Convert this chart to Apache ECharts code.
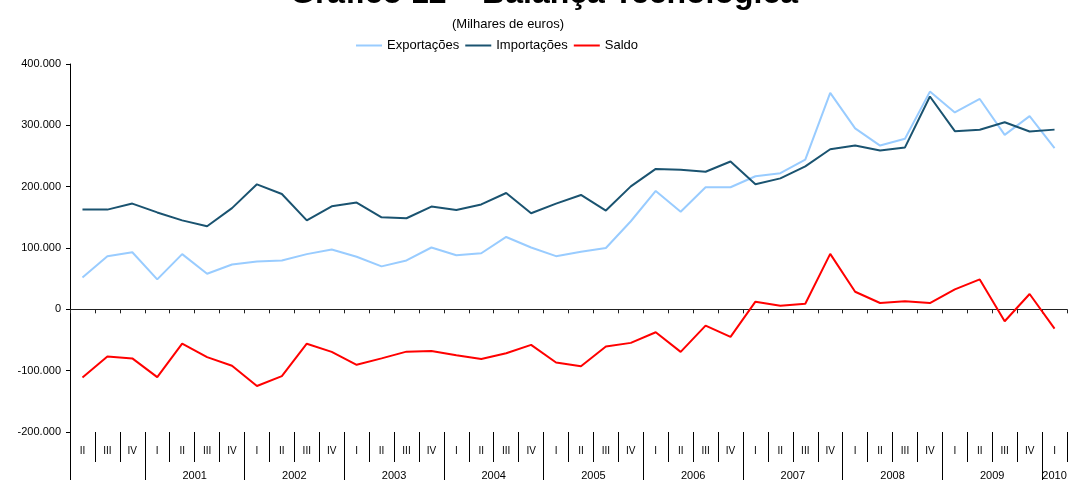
<!DOCTYPE html>
<html>
<head>
<meta charset="utf-8">
<script src="https://cdn.jsdelivr.net/npm/echarts@6/dist/echarts.min.js"></script>
<style>
  html, body { margin: 0; padding: 0; background: #fff; }
  #chart { width: 1070px; height: 481px; }
</style>
</head>
<body>
<div id="chart"></div>
<script>
// trimestres: 2000 II ... 2010 I
const quarters = [
  'II', 'III', 'IV',
  'I', 'II', 'III', 'IV',
  'I', 'II', 'III', 'IV',
  'I', 'II', 'III', 'IV',
  'I', 'II', 'III', 'IV',
  'I', 'II', 'III', 'IV',
  'I', 'II', 'III', 'IV',
  'I', 'II', 'III', 'IV',
  'I', 'II', 'III', 'IV',
  'I', 'II', 'III', 'IV',
  'I'
]
const years = ['2001', '2002', '2003', '2004', '2005', '2006', '2007', '2008', '2009', '2010']

// milhares de euros
const exportacoes = [
  52000, 86700, 93000, 48800, 90000, 58000, 73000, 78000, 79700, 90000,
  97600, 85700, 70000, 79700, 100800, 88300, 91500, 118000, 100800, 86700,
  93800, 100000, 143600, 193000, 159000, 199000, 199000, 217000, 222000, 244000,
  353000, 295000, 267000, 278000, 355000, 321000, 343000, 284500, 315000, 263000
]
const importacoes = [
  162600, 162600, 172400, 158000, 145000, 135500, 165000, 203800, 188000, 145000,
  168000, 174000, 150000, 148500, 167500, 162000, 171000, 189700, 156600, 172400,
  186500, 161000, 200500, 229000, 227600, 224400, 241000, 203800, 213500, 233000,
  261000, 267000, 259000, 264000, 347000, 290500, 292700, 305000, 290000, 293000
]
const saldo = [
  -111000, -77000, -80000, -110600, -56000, -78000, -92000, -125000, -109000, -56000,
  -69400, -90500, -80000, -69000, -67800, -74800, -81000, -71500, -58000, -86700,
  -92700, -60700, -54700, -37400, -69400, -26500, -45000, 12500, 6000, 9200,
  90500, 28700, 10300, 13000, 10300, 32500, 48800, -19500, 25000, -31400
]

// eixo dos anos: meio-trimestres, 0..80
const yearSlots = []
const yearTicks = [0]
for (let i = 0; i <= 80; i++) yearSlots.push('')
let q = quarters.indexOf('I')
years.forEach((y, i) => {
  const start = q + i * 4
  const end = Math.min(start + 4, quarters.length)
  yearSlots[start + end] = y
  yearTicks.push(start * 2)
})

const FONT = '"Liberation Sans", Arial, sans-serif'

function fmtThousands(v) {
  if (v === 0) return '0'
  const s = Math.abs(v).toString().replace(/\B(?=(\d{3})+(?!\d))/g, '.')
  return (v < 0 ? '-' : '') + s
}

const chart = echarts.init(document.getElementById('chart'))

const option = {
  animation: false,
  textStyle: { fontFamily: FONT },
  title: [
    {
      text: 'Gráfico 12 – Balança Tecnológica',
      left: 285,
      top: -27,
      textStyle: { fontFamily: FONT, fontSize: 32, fontWeight: 'bold', color: '#000' }
    },
    {
      text: '(Milhares de euros)',
      left: 447,
      top: 13,
      textStyle: { fontFamily: FONT, fontSize: 13, fontWeight: 'normal', color: '#000' }
    }
  ],
  legend: {
    left: 351,
    top: 34,
    icon: 'rect',
    itemWidth: 26,
    itemHeight: 2,
    itemGap: 6,
    textStyle: { fontFamily: FONT, fontSize: 13, color: '#000' },
    data: ['Exportações', 'Importações', 'Saldo']
  },
  grid: {
    left: 70,
    right: 0,
    top: 64,
    bottom: 46,
    containLabel: false
  },
  xAxis: [
    {
      // trimestres
      type: 'category',
      data: quarters,
      position: 'bottom',
      boundaryGap: true,
      axisLine: { show: false, onZero: false },
      axisTick: { show: true, interval: 0, length: 30, lineStyle: { color: '#000', width: 1 } },
      axisLabel: { interval: 0, margin: 14, fontSize: 10, color: '#000', fontFamily: FONT },
      splitLine: { show: false }
    },
    {
      // anos
      type: 'category',
      data: yearSlots,
      position: 'bottom',
      boundaryGap: false,
      axisLine: { show: false, onZero: false },
      axisTick: {
        show: true,
        interval: (idx) => yearTicks.includes(idx),
        length: 48,
        lineStyle: { color: '#000', width: 1 }
      },
      axisLabel: { interval: 0, margin: 38, fontSize: 11, color: '#000', fontFamily: FONT },
      splitLine: { show: false }
    },
    {
      // linha do zero
      type: 'category',
      data: quarters,
      position: 'bottom',
      boundaryGap: true,
      axisLine: { show: true, onZero: true, lineStyle: { color: '#222', width: 1 } },
      axisTick: { show: true, interval: 0, length: 4, lineStyle: { color: '#222' } },
      axisLabel: { show: false },
      splitLine: { show: false }
    }
  ],
  yAxis: {
    type: 'value',
    min: -200000,
    max: 400000,
    interval: 100000,
    axisLine: { show: true, onZero: false, lineStyle: { color: '#000', width: 1 } },
    axisTick: { show: true, length: 4, lineStyle: { color: '#000' } },
    axisLabel: {
      margin: 9,
      fontSize: 11,
      color: '#000',
      fontFamily: FONT,
      formatter: fmtThousands
    },
    splitLine: { show: false }
  },
  series: [
    {
      name: 'Exportações',
      type: 'line',
      xAxisIndex: 0,
      data: exportacoes,
      symbol: 'none',
      itemStyle: { color: '#99CCFF' },
      lineStyle: { color: '#99CCFF', width: 2 }
    },
    {
      name: 'Importações',
      type: 'line',
      xAxisIndex: 0,
      data: importacoes,
      symbol: 'none',
      itemStyle: { color: '#1A5370' },
      lineStyle: { color: '#1A5370', width: 2 }
    },
    {
      name: 'Saldo',
      type: 'line',
      xAxisIndex: 0,
      data: saldo,
      symbol: 'none',
      itemStyle: { color: '#FF0000' },
      lineStyle: { color: '#FF0000', width: 2 }
    }
  ]
}

chart.setOption(option)
</script>
</body>
</html>
